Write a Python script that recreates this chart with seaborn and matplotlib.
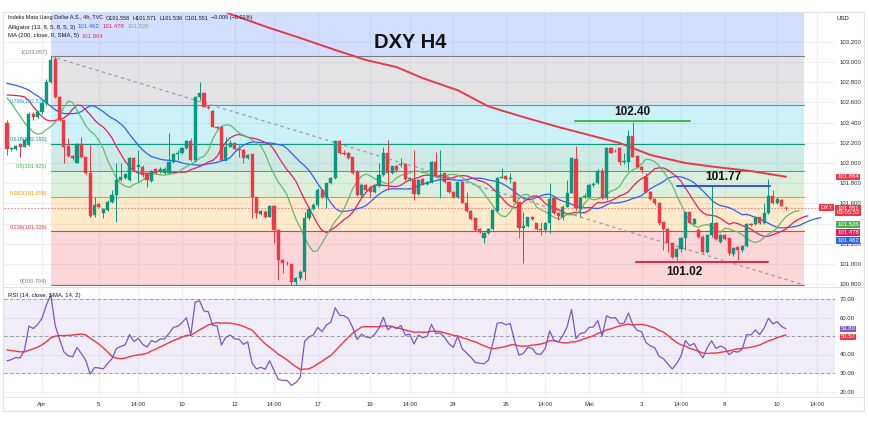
import numpy as np
import pandas as pd
import matplotlib
matplotlib.use("Agg")
import matplotlib.pyplot as plt
from matplotlib.patches import Rectangle
from matplotlib.lines import Line2D
import seaborn as sns

# ---------------- data ----------------
opens = [102.393, 102.14, 102.139, 102.188, 102.162, 102.178, 102.49, 102.459, 102.508, 102.591,
         102.805, 103.03, 102.657, 102.426, 102.17, 102.07, 102.004, 102.185, 102.063, 101.904,
         101.485, 101.591, 101.508, 101.535, 101.617, 101.683, 101.832, 101.848, 101.832, 102.046,
         101.96, 101.964, 101.898, 101.825, 101.94, 101.908, 101.898, 101.898, 102.013, 102.089,
         102.096, 102.152, 102.218, 102.03, 102.65, 102.69, 102.558, 102.515, 102.36, 102.36,
         102.03, 102.162, 102.201, 102.135, 102.129, 102.046, 102.086, 101.66, 101.495, 101.518,
         101.47, 101.578, 101.337, 101.04, 101.013, 101.0, 100.825, 100.858, 100.924, 101.452,
         101.541, 101.581, 101.733, 101.66, 101.799, 101.855, 102.218, 102.096, 102.096, 102.056,
         101.914, 101.683, 101.782, 101.766, 101.716, 101.772, 101.881, 102.096, 101.898, 101.974,
         101.977, 101.987, 101.838, 101.832, 101.693, 101.838, 101.792, 101.812, 102.007, 101.871,
         101.898, 101.815, 101.716, 101.66, 101.812, 101.607, 101.528, 101.452, 101.347, 101.254,
         101.31, 101.347, 101.528, 101.855, 101.871, 101.838, 101.809, 101.61, 101.36, 101.38,
         101.469, 101.403, 101.347, 101.337, 101.409, 101.657, 101.508, 101.469, 101.568, 101.706,
         102.036, 101.545, 101.66, 101.667, 101.782, 101.799, 101.924, 101.65, 102.145, 102.12,
         102.152, 102.007, 102.013, 102.267, 102.07, 101.964, 101.865, 101.716, 101.64, 101.607,
         101.413, 101.347, 101.205, 101.073, 101.146, 101.254, 101.512, 101.396, 101.337, 101.271,
         101.122, 101.287, 101.409, 101.215, 101.287, 101.254, 101.1, 101.17, 101.139, 101.178,
         101.396, 101.396, 101.462, 101.403, 101.502, 101.677, 101.601, 101.634, 101.558]
highs = [102.426, 102.16, 102.178, 102.195, 102.244, 102.508, 102.508, 102.525, 102.624, 102.829,
         103.057, 103.057, 102.664, 102.43, 102.244, 102.08, 102.195, 102.261, 102.07, 102.178,
         101.667, 101.601, 101.551, 101.634, 101.733, 101.997, 101.997, 101.898, 102.056, 102.056,
         102.129, 101.98, 101.904, 101.931, 101.947, 101.957, 101.96, 102.294, 102.102, 102.129,
         102.162, 102.228, 102.244, 102.664, 102.805, 102.69, 102.574, 102.525, 102.37, 102.366,
         102.261, 102.228, 102.211, 102.178, 102.135, 102.089, 102.096, 101.667, 101.535, 101.535,
         101.584, 101.584, 101.343, 101.05, 101.033, 101.0, 100.875, 100.941, 101.518, 101.568,
         101.601, 101.749, 101.74, 101.806, 101.865, 102.228, 102.228, 102.129, 102.112, 102.063,
         101.931, 101.799, 101.792, 101.776, 101.782, 101.997, 102.162, 102.228, 101.967, 101.98,
         102.046, 101.997, 101.865, 102.129, 101.838, 101.848, 101.82, 102.02, 102.112, 102.129,
         101.904, 101.822, 101.726, 101.818, 101.818, 101.716, 101.535, 101.459, 101.353, 101.32,
         101.353, 101.541, 101.865, 101.954, 101.881, 101.898, 101.815, 101.617, 101.518, 101.469,
         101.475, 101.409, 101.419, 101.419, 101.799, 101.667, 101.518, 101.584, 101.832, 102.063,
         102.168, 101.667, 101.7, 101.799, 101.815, 101.937, 101.947, 102.162, 102.162, 102.139,
         102.162, 102.1, 102.327, 102.409, 102.079, 101.974, 101.898, 101.723, 101.65, 101.617,
         101.419, 101.353, 101.211, 101.155, 101.271, 101.518, 101.518, 101.452, 101.353, 101.287,
         101.294, 101.782, 101.419, 101.294, 101.3, 101.26, 101.17, 101.178, 101.188, 101.409,
         101.403, 101.475, 101.469, 101.601, 101.838, 101.733, 101.66, 101.64, 101.571]
lows = [102.079, 102.12, 102.129, 102.056, 102.155, 102.168, 102.426, 102.443, 102.49, 102.574,
        102.795, 102.647, 102.42, 101.997, 102.063, 102.03, 101.997, 102.046, 101.89, 101.469,
        101.469, 101.561, 101.452, 101.528, 101.6, 101.419, 101.825, 101.838, 101.825, 101.924,
        101.815, 101.865, 101.766, 101.815, 101.89, 101.898, 101.89, 101.89, 102.004, 102.03,
        102.089, 102.142, 102.023, 102.013, 102.62, 102.55, 102.531, 102.353, 102.34, 102.023,
        102.023, 102.155, 102.129, 102.063, 101.997, 102.036, 101.452, 101.452, 101.485, 101.452,
        101.47, 101.205, 100.842, 100.908, 100.99, 100.792, 100.792, 100.842, 100.842, 101.436,
        101.535, 101.568, 101.65, 101.551, 101.792, 101.845, 102.089, 102.079, 102.036, 101.89,
        101.677, 101.667, 101.726, 101.667, 101.706, 101.766, 101.871, 101.733, 101.89, 101.914,
        101.964, 101.832, 101.825, 101.634, 101.683, 101.782, 101.78, 101.8, 101.865, 101.65,
        101.805, 101.706, 101.65, 101.65, 101.601, 101.518, 101.436, 101.33, 101.31, 101.205,
        101.3, 101.337, 101.518, 101.848, 101.832, 101.8, 101.601, 101.254, 101.007, 101.37,
        101.436, 101.337, 101.287, 101.32, 101.304, 101.495, 101.436, 101.436, 101.561, 101.7,
        101.535, 101.469, 101.65, 101.66, 101.766, 101.792, 101.644, 101.634, 102.096, 102.109,
        101.98, 101.99, 101.931, 102.056, 101.947, 101.898, 101.706, 101.634, 101.584, 101.386,
        101.139, 101.122, 101.056, 101.023, 101.122, 101.139, 101.396, 101.386, 101.254, 101.112,
        101.106, 101.27, 101.238, 101.205, 101.24, 101.089, 101.08, 101.04, 101.122, 101.172,
        101.38, 101.39, 101.396, 101.396, 101.495, 101.594, 101.59, 101.57, 101.536]
closes = [102.139, 102.15, 102.169, 102.162, 102.228, 102.485, 102.459, 102.508, 102.591, 102.805,
          103.02, 102.657, 102.426, 102.162, 102.07, 102.046, 102.188, 102.056, 101.898, 101.479,
          101.581, 101.568, 101.541, 101.617, 101.683, 101.832, 101.865, 101.888, 102.046, 101.931,
          101.98, 101.881, 101.832, 101.924, 101.898, 101.94, 101.94, 102.007, 102.089, 102.102,
          102.152, 102.218, 102.03, 102.65, 102.69, 102.558, 102.548, 102.36, 102.35, 102.03,
          102.162, 102.201, 102.135, 102.13, 102.046, 102.079, 101.66, 101.502, 101.525, 101.469,
          101.578, 101.337, 101.04, 101.007, 101.007, 100.825, 100.858, 100.918, 101.452, 101.541,
          101.581, 101.733, 101.66, 101.799, 101.855, 102.218, 102.096, 102.09, 102.046, 101.898,
          101.683, 101.782, 101.733, 101.716, 101.772, 101.881, 102.096, 101.898, 101.967, 101.931,
          101.987, 101.838, 101.855, 101.693, 101.832, 101.792, 101.812, 102.007, 101.871, 101.88,
          101.815, 101.716, 101.66, 101.812, 101.607, 101.528, 101.442, 101.337, 101.32, 101.31,
          101.347, 101.535, 101.855, 101.865, 101.838, 101.855, 101.61, 101.353, 101.38, 101.462,
          101.442, 101.347, 101.337, 101.409, 101.644, 101.502, 101.479, 101.568, 101.706, 102.046,
          101.551, 101.657, 101.673, 101.782, 101.79, 101.924, 101.65, 102.145, 102.102, 102.115,
          102.007, 102.02, 102.267, 102.063, 101.957, 101.931, 101.716, 101.64, 101.601, 101.403,
          101.347, 101.211, 101.073, 101.146, 101.254, 101.512, 101.403, 101.442, 101.271, 101.122,
          101.287, 101.409, 101.248, 101.287, 101.248, 101.106, 101.155, 101.139, 101.178, 101.396,
          101.39, 101.469, 101.403, 101.502, 101.677, 101.601, 101.64, 101.578, 101.551]

jaw_seed = [102.789, 102.779, 102.769, 102.756, 102.739, 102.723, 102.69, 102.664]
teeth_seed = [102.673, 102.672, 102.668, 102.664, 102.655]
lips_seed = [102.644, 102.594, 102.525]
jaw_init, teeth_init, lips_init = 102.634, 102.617, 102.465

rsi_seed_gain, rsi_seed_loss = 0.030, 0.052
rsi_sma_seed = 43.0

ma200_bars = [49, 51, 60, 67, 75, 82, 89, 95, 103, 110, 118, 126, 133, 140, 147, 155, 162, 170, 178]
ma200_vals = [103.515, 103.475, 103.337, 103.238, 103.119, 103.02, 102.95, 102.84, 102.72, 102.56,
              102.455, 102.356, 102.277, 102.198, 102.08, 102.0, 101.96, 101.92, 101.864]

fib_high, fib_low = 103.057, 100.794
fib_levels = [0, 0.236, 0.382, 0.5, 0.618, 0.786, 1, 1.618]
fib_colors = ['#787b86', '#f23645', '#ff9800', '#4caf50', '#089981', '#00bcd4', '#787b86', '#2962ff']
fib_bars = (10, 182)
trend_bars = (10, 182)

tick_bars = [8, 21, 30, 40, 52, 61, 71, 83, 92, 102, 114, 123, 133, 145, 154, 164, 176, 185]
tick_labels = ['Apr', '5', '14:00', '10', '12', '14:00', '17', '19', '14:00', '24', '26', '14:00',
               'Mei', '3', '14:00', '8', '10', '14:00']
price_ticks = [100.8, 101.0, 101.2, 101.4, 101.6, 101.8, 102.0, 102.2, 102.4, 102.6, 102.8, 103.0, 103.2]
price_hidden = [101.4]          # covered by the price badges in the reference
rsi_ticks = [20, 30, 40, 50, 60, 70]
rsi_hidden = [50]

marks_text = ['102.40', '101.77', '101.02']
marks_price = [102.416, 101.772, 101.02]
marks_bars = [(129.8, 156.1), (153.1, 174.3), (143.8, 173.8)]
marks_color = ['#3dbb4a', '#3050e8', '#e0283a']

# ---------------- style ----------------
sns.set_style("white")
plt.rcParams['font.family'] = ['Liberation Sans', 'DejaVu Sans']

SMALL = 4.3
W, H = 870, 426
fig = plt.figure(figsize=(W / 100, H / 100), dpi=100)
fig.patch.set_facecolor('white')

def fx(px):
    return px / W

def fy(py):
    return 1 - py / H

n = len(closes)
step = (786 - 7) / (n - 1)          # pixels per bar
x_left = (4 - 7) / step
x_right = (835 - 7) / step

ax = fig.add_axes([fx(4), fy(287), fx(835) - fx(4), fy(13) - fy(287)])
rax = fig.add_axes([fx(4), fy(396), fx(835) - fx(4), fy(287) - fy(396)], sharex=ax)

def py2price(py):
    return 103.0 - (py - 62) / 101.0

ax.set_ylim(py2price(287), py2price(13))
rax.set_ylim(70 - (396 - 299) / 1.85, 70 + (299 - 287) / 1.85)
ax.set_xlim(x_left, x_right)

for a in (ax, rax):
    for s in a.spines.values():
        s.set_visible(False)
    a.set_facecolor('white')

# grid
grid_c = '#eef0f4'
for b in tick_bars:
    ax.axvline(b, color=grid_c, lw=0.8, zorder=0)
    rax.axvline(b, color=grid_c, lw=0.8, zorder=0)
for p in price_ticks:
    ax.axhline(p, color=grid_c, lw=0.8, zorder=0)
for r in rsi_ticks:
    rax.axhline(r, color=grid_c, lw=0.8, zorder=0)

# ---------------- Fibonacci ----------------
rng = fib_high - fib_low
fib_prices = [fib_low + lv * rng for lv in fib_levels]
for k in range(1, len(fib_levels)):
    ax.fill_between([fib_bars[0], fib_bars[1]], fib_prices[k - 1], fib_prices[k],
                    color=fib_colors[k], alpha=0.2, lw=0, zorder=1)
for k, lv in enumerate(fib_levels[:-1]):
    ax.plot([fib_bars[0], fib_bars[1]], [fib_prices[k]] * 2, color=fib_colors[k], lw=0.8, zorder=2)
    lbl = f"{lv:g}({fib_prices[k]:.3f})"
    ax.text(fib_bars[0] - 0.8, fib_prices[k] + 0.012, lbl, color=fib_colors[k], fontsize=4.0,
            ha='right', va='bottom', zorder=6)

# trend dashed line
ax.plot(list(trend_bars), [fib_high, fib_low], color='#9598a1', lw=0.8, ls=(0, (3, 3)), zorder=2)

# last price dashed line
ax.axhline(closes[-1], color='#f23645', lw=0.6, ls=(0, (2, 2)), alpha=0.7, zorder=2)

# ---------------- MA 200 ----------------
sns.lineplot(x=ma200_bars, y=ma200_vals, ax=ax, color='#e8384a', lw=1.4, estimator=None,
             sort=False, zorder=3, legend=False)

# ---------------- Alligator ----------------
hl2 = [(h + l) / 2 for h, l in zip(highs, lows)]

def smma(vals, period, init):
    out, s = [], init
    for t, v in enumerate(vals):
        if t > 0:
            s = (s * (period - 1) + v) / period
        out.append(s)
    return out

def alligator_line(period, shift, init, seed):
    core = smma(hl2, period, init)
    xs = list(range(len(seed))) + [t + shift for t in range(n)]
    ys = list(seed) + core
    return xs, ys

for period, shift, init, seed, col in [(13, 8, jaw_init, jaw_seed, '#2962ff'),
                                        (8, 5, teeth_init, teeth_seed, '#e91e63'),
                                        (5, 3, lips_init, lips_seed, '#66bb6a')]:
    xs, ys = alligator_line(period, shift, init, seed)
    sns.lineplot(x=xs, y=ys, ax=ax, color=col, lw=0.9, estimator=None, sort=False,
                 zorder=4, legend=False)

# ---------------- candles ----------------
up_c, dn_c = '#089981', '#f23645'
xs = np.arange(n)
cols = [up_c if c >= o else dn_c for o, c in zip(opens, closes)]
ax.vlines(xs, lows, highs, colors=cols, lw=0.7, zorder=5)
bottoms = [min(o, c) for o, c in zip(opens, closes)]
heights = [max(abs(c - o), 0.006) for o, c in zip(opens, closes)]
ax.bar(xs, heights, bottom=bottoms, width=0.72, color=cols, edgecolor=cols, lw=0.3, zorder=5)

# marked levels
for txt, pr, (b0, b1), col in zip(marks_text, marks_price, marks_bars, marks_color):
    ax.plot([b0, b1], [pr, pr], color=col, lw=1.4, zorder=6)
    if txt == '101.02':
        ax.text((b0 + b1) / 2 - 4, pr - 0.04, txt, fontsize=8.5, fontweight='bold', ha='center',
                va='top', color='#111111', zorder=7)
    else:
        ax.text((b0 + b1) / 2, pr + 0.03, txt, fontsize=8.5, fontweight='bold', ha='center',
                va='bottom', color='#111111', zorder=7)

# ---------------- RSI ----------------
ag, al = rsi_seed_gain, rsi_seed_loss
rsi = []
for t in range(n):
    if t > 0:
        ch = closes[t] - closes[t - 1]
        ag = (ag * 13 + max(ch, 0)) / 14
        al = (al * 13 + max(-ch, 0)) / 14
    rsi.append(100 - 100 / (1 + ag / al))
rsi_sma = []
for t in range(n):
    win = rsi[max(0, t - 13):t + 1]
    rsi_sma.append((sum(win) + (14 - len(win)) * rsi_sma_seed) / 14)

rax.fill_between([x_left, x_right], 30, 70, color='#7e57c2', alpha=0.1, lw=0, zorder=1)
for lv in (70, 50, 30):
    rax.axhline(lv, color='#9598a1', lw=0.7, ls=(0, (3, 3)), zorder=2)
df_rsi = pd.DataFrame({'bar': xs, 'rsi': rsi, 'sma': rsi_sma})
sns.lineplot(data=df_rsi, x='bar', y='sma', ax=rax, color='#f23645', lw=1.0, zorder=3, legend=False)
sns.lineplot(data=df_rsi, x='bar', y='rsi', ax=rax, color='#7e57c2', lw=0.9, zorder=4, legend=False)

# ---------------- axes ticks ----------------
ax.tick_params(axis='x', which='both', bottom=False, labelbottom=False)
ax.set_xlabel('')
ax.set_ylabel('')
rax.set_xlabel('')
rax.set_ylabel('')
for a, ticks, hidden, fmt in ((ax, price_ticks, price_hidden, '{:.3f}'),
                              (rax, rsi_ticks, rsi_hidden, '{:.2f}')):
    a.yaxis.tick_right()
    a.set_yticks(ticks)
    a.set_yticklabels(['' if t in hidden else fmt.format(t) for t in ticks])
    a.tick_params(axis='y', length=0, pad=3.5, labelsize=SMALL, labelcolor='#2a2e39')
rax.set_xticks(tick_bars)
rax.set_xticklabels(tick_labels)
rax.tick_params(axis='x', length=0, pad=4.5, labelsize=SMALL, labelcolor='#2a2e39')
ax.set_xlim(x_left, x_right)

# panel separator + frame
fig.add_artist(Line2D([fx(4), fx(864)], [fy(287), fy(287)], color='#e0e3eb', lw=0.8))
fig.add_artist(Rectangle((fx(3), fy(411)), fx(864) - fx(3), fy(12) - fy(411), fill=False,
                         ec='#e0e3eb', lw=0.8))
fig.add_artist(Line2D([fx(3), fx(864)], [fy(397), fy(397)], color='#e0e3eb', lw=0.6))

# ---------------- title ----------------
fig.text(fx(410), fy(42), 'DXY H4', fontsize=14.5, fontweight='bold', ha='center', va='center',
         color='#111111')

# ---------------- legend lines ----------------
def chain(first_x, y, parts, size=SMALL, gap=2.0):
    t = fig.text(fx(first_x), fy(y), parts[0][0], fontsize=size, color=parts[0][1],
                 ha='left', va='center')
    prev = t
    for txt, col in parts[1:]:
        prev = ax.annotate(txt, xy=(1, 0.5), xycoords=prev, xytext=(gap, 0),
                           textcoords='offset points', va='center', ha='left',
                           fontsize=size, color=col, annotation_clip=False)
    return t

dark = '#131722'
chain(8, 18, [('Indeks Mata Uang Dollar A.S., 4h, TVC', dark), ('O101.558', dark), ('H101.571', dark),
              ('L101.536', dark), ('C101.551', dark), ('\u22120.009 (\u22120.01%)', dark)],
      size=4.0, gap=1.8)
chain(8, 27, [('Alligator (13, 8, 5, 8, 5, 3)', dark), ('101.462', '#2962ff'), ('101.478', '#e91e63'),
              ('101.526', '#66bb6a')])
chain(8, 36, [('MA (200, close, 0, SMA, 5)', dark), ('101.864', '#f23645')])
chain(8, 295, [('RSI (14, close, SMA, 14, 2)', dark), ('53.80', '#7e57c2'), ('50.57', '#f23645'),
               ('\u2205', dark), ('\u2205', dark)])

# ---------------- right scale badges ----------------
fig.text(fx(843), fy(19), 'USD', fontsize=SMALL, color=dark, ha='center', va='center')

def badge(xc, y, txt, fc, size=SMALL, ls=1.15):
    fig.text(fx(xc), fy(y), txt, fontsize=size, color='white', ha='center', va='center',
             bbox=dict(boxstyle='square,pad=0.15', fc=fc, ec='none'), linespacing=ls)

badge(848, 177, '101.864', '#f23645')
badge(848, 210.5, '101.551\n03:05:52', '#f23645', ls=1.0)
fig.text(fx(826.5), fy(207.5), 'DXY', fontsize=SMALL, color='white', ha='center', va='center',
         bbox=dict(boxstyle='square,pad=0.15', fc='#f23645', ec='none'))
badge(848, 224.5, '101.526', '#4caf50')
badge(848, 232.5, '101.478', '#e91e63')
badge(848, 240.5, '101.462', '#2962ff')
badge(848, 329, '53.80', '#7e57c2')
badge(848, 337, '50.57', '#f23645')

fig.savefig('out.png', dpi=100, facecolor='white')
